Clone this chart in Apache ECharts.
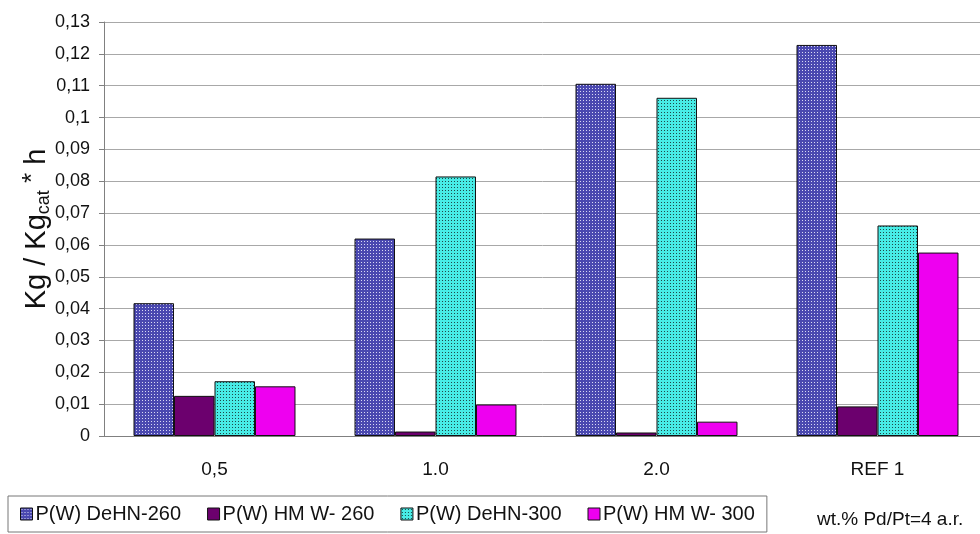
<!DOCTYPE html>
<html>
<head>
<meta charset="utf-8">
<script src="https://cdn.jsdelivr.net/npm/echarts@6/dist/echarts.min.js"></script>
<style>
  html, body { margin: 0; padding: 0; background: #fff; }
  #chart { width: 980px; height: 534px; }
</style>
</head>
<body>
<div id="chart"></div>
<script>
// Catalyst groups (wt.% loading) and productivity values, Kg / Kg_cat * h
const categories = ['0,5', '1.0', '2.0', 'REF 1'];
const seriesNames = ['P(W) DeHN-260', 'P(W) HM W- 260', 'P(W) DeHN-300', 'P(W) HM W- 300'];
const dehn260 = [0.0417, 0.0620, 0.1106, 0.1228];
const hmw260  = [0.0126, 0.0014, 0.0011, 0.0093];
const dehn300 = [0.0172, 0.0815, 0.1062, 0.0661];
const hmw300  = [0.0156, 0.0099, 0.0045, 0.0576];
const yTicks = { min: 0, max: 0.13, step: 0.01 };
const noteText = 'wt.% Pd/Pt=4 a.r.';

// Small repeating dot textures for the patterned bars
function dotPattern(base, dot, size, dotSize) {
  const c = document.createElement('canvas');
  c.width = size; c.height = size;
  const g = c.getContext('2d');
  g.fillStyle = base;
  g.fillRect(0, 0, size, size);
  g.fillStyle = dot;
  g.fillRect(1, 1, dotSize, dotSize);
  return { image: c, repeat: 'repeat' };
}

const fills = [
  dotPattern('#4a48b0', '#d8d8f4', 3, 1),
  '#6c006e',
  dotPattern('#48ece6', '#1e4a4a', 3, 1),
  '#ee00f0'
];
const valueSets = [dehn260, hmw260, dehn300, hmw300];

const font = 'Liberation Sans, Arial, sans-serif';

const chart = echarts.init(document.getElementById('chart'), null, { renderer: 'canvas' });

chart.setOption({
  animation: false,
  backgroundColor: '#ffffff',
  grid: {
    left: 104, top: 22, width: 884, height: 414,
    containLabel: false,
    outerBoundsMode: 'none'
  },
  legend: {
    left: 8,
    top: 496,
    padding: [8, 12, 8, 12],
    borderColor: '#777',
    borderWidth: 1,
    itemWidth: 12,
    itemHeight: 12,
    itemGap: 26,
    icon: 'rect',
    textStyle: { fontFamily: font, fontSize: 20, color: '#111', padding: [0, 0, 0, -2] },
    itemStyle: { borderColor: '#111', borderWidth: 1 },
    data: seriesNames
  },
  xAxis: {
    type: 'category',
    data: categories,
    axisLine: { lineStyle: { color: '#808080', width: 1 } },
    axisTick: { show: false },
    axisLabel: { fontFamily: font, fontSize: 19, color: '#111', margin: 24 },
    splitLine: { show: false }
  },
  yAxis: {
    type: 'value',
    min: yTicks.min,
    max: yTicks.max,
    interval: yTicks.step,
    name: '{m|Kg / Kg}{s|cat}{p| *}{m| h}',
    nameLocation: 'middle',
    nameRotate: 90,
    nameGap: 47,
    nameMoveOverlap: false,
    nameTextStyle: {
      fontFamily: font,
      color: '#111',
      rich: {
        m: { fontFamily: font, fontSize: 29, color: '#111', lineHeight: 40, verticalAlign: 'middle' },
        s: { fontFamily: font, fontSize: 18, color: '#111', lineHeight: 40, verticalAlign: 'bottom', padding: [0, 0, 4, 0] },
        p: { fontFamily: font, fontSize: 26, color: '#111', lineHeight: 40, verticalAlign: 'top', padding: [3, 0, 0, 0] }
      }
    },
    axisLine: { show: true, lineStyle: { color: '#808080', width: 1 } },
    axisTick: { show: true, length: 5, lineStyle: { color: '#808080' } },
    axisLabel: {
      fontFamily: font,
      fontSize: 18,
      color: '#111',
      margin: 14,
      formatter: v => String(+v.toFixed(2)).replace('.', ',')
    },
    splitLine: { show: true, lineStyle: { color: '#a8a8a8', width: 1 } }
  },
  graphic: [{
    type: 'text',
    left: 817,
    top: 510,
    style: { text: noteText, fontFamily: font, fontSize: 19, fill: '#111' }
  }],
  series: valueSets.map((vals, i) => ({
    name: seriesNames[i],
    type: 'bar',
    data: vals,
    barGap: '0%',
    barCategoryGap: '26.7%',
    itemStyle: { color: fills[i], borderColor: '#111', borderWidth: 1 },
    emphasis: { disabled: true }
  }))
});
</script>
</body>
</html>
